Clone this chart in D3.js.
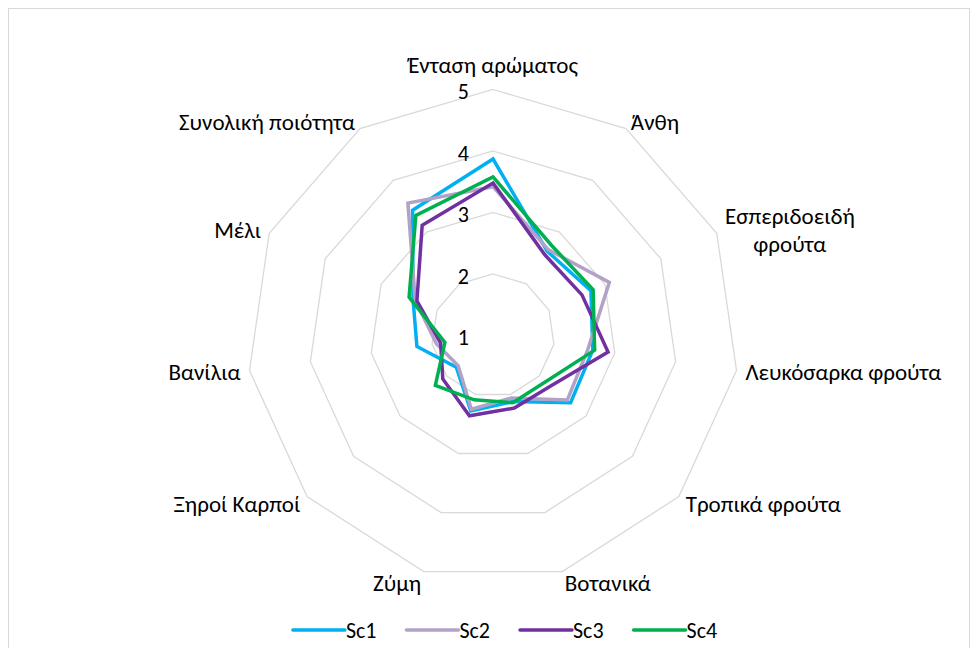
<!DOCTYPE html>
<meta charset="utf-8">
<script src="https://cdn.jsdelivr.net/npm/d3@7/dist/d3.min.js"></script>
<style>
    body { margin: 0; background: #fff; }
    text { font-family: Calibri, Carlito, Lato, sans-serif; fill: #000; }
</style>
<div id="chart"></div>
<script>
    // categories, clockwise from the top
    var categories = ["Ένταση αρώματος", "Άνθη", "Εσπεριδοειδή φρούτα", "Λευκόσαρκα φρούτα",
        "Τροπικά φρούτα", "Βοτανικά", "Ζύμη", "Ξηροί Καρποί", "Βανίλια", "Μέλι", "Συνολική ποιότητα"];
    var seriesNames = ["Sc1", "Sc2", "Sc3", "Sc4"];
    var sc1 = [3.87, 2.63, 2.75, 2.64, 2.67, 2.12, 2.28, 1.79, 2.25, 2.43, 3.42];
    var sc2 = [3.42, 2.66, 3.08, 2.56, 2.60, 2.06, 2.25, 1.75, 1.93, 2.39, 3.56];
    var sc3 = [3.48, 2.56, 2.59, 2.89, 2.25, 2.23, 2.36, 2.08, 1.86, 2.36, 3.13];
    var sc4 = [3.58, 2.75, 2.79, 2.67, 2.14, 2.14, 2.09, 2.24, 1.79, 2.50, 3.32];
    var ticks = [1, 2, 3, 4, 5];

    var colors = ["#00b0f0", "#b3a2c7", "#7030a0", "#00b050"];
    var allSeries = [sc1, sc2, sc3, sc4];

    var width = 978, height = 648;
    var cx = 493, cy = 335.5, R = 246;

    var svg = d3.select("#chart")
        .append("svg")
        .attr("width", width)
        .attr("height", height);

    svg.append("rect")
        .attr("x", 8.5).attr("y", 8.5)
        .attr("width", 961).attr("height", 660)
        .attr("fill", "#fff")
        .attr("stroke", "#d9d9d9");

    var g = svg.append("g")
        .attr("transform", "translate(" + cx + "," + cy + ")");

    var r = d3.scaleLinear().domain([1, 5]).range([0, R]);
    var angle = d3.scaleLinear().domain([0, categories.length]).range([0, 2 * Math.PI]);

    var radial = d3.lineRadial()
        .angle(function(d, i) { return angle(i); })
        .radius(function(d) { return r(d); })
        .curve(d3.curveLinearClosed);

    // grid rings
    g.selectAll(".ring")
        .data(ticks.slice(1))
        .enter()
        .append("path")
        .attr("d", function(t) { return radial(categories.map(function() { return t; })); })
        .attr("fill", "none")
        .attr("stroke", "#d9d9d9")
        .attr("stroke-width", 1.3);

    // series
    g.selectAll(".series")
        .data(allSeries)
        .enter()
        .append("path")
        .attr("d", function(d) { return radial(d); })
        .attr("fill", "none")
        .attr("stroke", function(d, i) { return colors[i]; })
        .attr("stroke-width", 3.5)
        .attr("stroke-linejoin", "miter");

    // tick labels
    g.selectAll(".tick")
        .data(ticks)
        .enter()
        .append("text")
        .attr("x", -24)
        .attr("y", function(t) { return -r(t) + 2; })
        .attr("text-anchor", "end")
        .attr("dominant-baseline", "central")
        .style("font-size", "22px")
        .text(function(t) { return t; });

    // category labels
    categories.forEach(function(name, i) {
        var a = angle(i), s = Math.sin(a), c = Math.cos(a);
        var vx = R * s, vy = -R * c;
        var anchor = Math.abs(s) < 0.1 ? "middle" : (s > 0 ? "start" : "end");
        var x = vx + 9 * s;
        var y = vy;
        if (Math.abs(s) < 0.1) y = vy - 25;
        else if (c > 0) y = vy - 7.5 * c;
        else y = vy - 12 * c;

        var t = g.append("text")
            .attr("text-anchor", anchor)
            .attr("dominant-baseline", "central")
            .style("font-size", "23px");

        var words = name.split(" ");
        if (name === "Εσπεριδοειδή φρούτα") {
            var l1 = t.append("tspan").attr("x", x).attr("y", y - 14).attr("text-anchor", "start").text(words[0]);
            var w = l1.node().getComputedTextLength();
            l1.attr("x", x + w / 2).attr("text-anchor", "middle");
            t.append("tspan").attr("x", x + w / 2).attr("y", y + 14).attr("text-anchor", "middle").text(words[1]);
        } else {
            t.attr("x", x).attr("y", y).text(name);
        }
    });

    // legend
    var legend = svg.append("g");
    var lx = 0;
    seriesNames.forEach(function(name, i) {
        var item = legend.append("g").attr("transform", "translate(" + lx + ",0)");
        item.append("line")
            .attr("x1", 0).attr("x2", 52)
            .attr("y1", 0).attr("y2", 0)
            .attr("stroke", colors[i])
            .attr("stroke-width", 3.5)
            .attr("stroke-linecap", "round");
        var txt = item.append("text")
            .attr("x", 53).attr("y", 0)
            .attr("dominant-baseline", "central")
            .style("font-size", "22px")
            .text(name);
        lx += 53 + txt.node().getComputedTextLength() + 30;
    });
    lx -= 30;
    legend.attr("transform", "translate(" + (505 - lx / 2) + ",630)");
</script>
